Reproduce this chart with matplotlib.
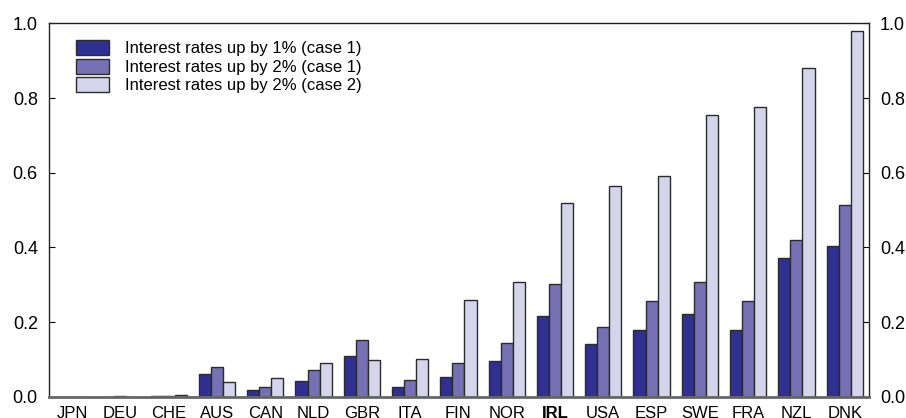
import numpy as np
import matplotlib.pyplot as plt

plt.rcParams['font.family'] = ['Liberation Sans', 'DejaVu Sans']

countries = ["JPN", "DEU", "CHE", "AUS", "CAN", "NLD", "GBR", "ITA", "FIN",
             "NOR", "IRL", "USA", "ESP", "SWE", "FRA", "NZL", "DNK"]

up1_case1 = [0.0, 0.0, 0.001, 0.060, 0.017, 0.043, 0.110, 0.025, 0.053,
             0.096, 0.216, 0.141, 0.178, 0.221, 0.178, 0.371, 0.404]
up2_case1 = [0.0, 0.002, 0.002, 0.079, 0.026, 0.071, 0.152, 0.045, 0.089,
             0.143, 0.303, 0.187, 0.257, 0.307, 0.257, 0.419, 0.514]
up2_case2 = [0.0, 0.0, 0.005, 0.039, 0.049, 0.090, 0.098, 0.100, 0.258,
             0.307, 0.519, 0.565, 0.592, 0.755, 0.775, 0.880, 0.981]

series_labels = ["Interest rates up by 1% (case 1)",
                 "Interest rates up by 2% (case 1)",
                 "Interest rates up by 2% (case 2)"]
colors = ["#2e3192", "#7671b4", "#d5d4eb"]

fig = plt.figure(figsize=(9.06, 4.18), dpi=100)
ax = fig.add_axes([0.054, 0.051, 0.905, 0.893])

x = np.arange(len(countries))
w = 0.25
for i, (vals, lab, col) in enumerate(zip([up1_case1, up2_case1, up2_case2], series_labels, colors)):
    ax.bar(x + (i - 1) * w, vals, width=w, color=col, edgecolor="#2b2b2b",
           linewidth=1.0, label=lab, zorder=2)

ax.set_xlim(-0.48, 16.5)
ax.set_ylim(0, 1.0)
ax.set_yticks(np.arange(0, 1.01, 0.2))
ax.set_yticklabels([f"{v:.1f}" for v in np.arange(0, 1.01, 0.2)])
ax.tick_params(axis="y", direction="in", length=4, labelsize=13,
               left=True, right=True, labelleft=True, labelright=True, pad=8)
ax.set_xticks(x)
ax.set_xticklabels(countries)
ax.tick_params(axis="x", length=0, labelsize=12, pad=6.5)
for t in ax.get_xticklabels():
    if t.get_text() == "IRL":
        t.set_fontweight("bold")

for s in ["left", "right", "top"]:
    ax.spines[s].set_linewidth(1.0)
    ax.spines[s].set_color("#222222")
ax.spines["bottom"].set_linewidth(2.0)
ax.spines["bottom"].set_color("#666666")
ax.spines["bottom"].set_zorder(3)

ax.legend(loc="upper left", bbox_to_anchor=(0.025, 0.973), frameon=False,
          fontsize=12, handlelength=2.0, handleheight=1.0,
          labelspacing=0.14, handletextpad=0.95, borderaxespad=0)

fig.savefig("out.png", dpi=100)
